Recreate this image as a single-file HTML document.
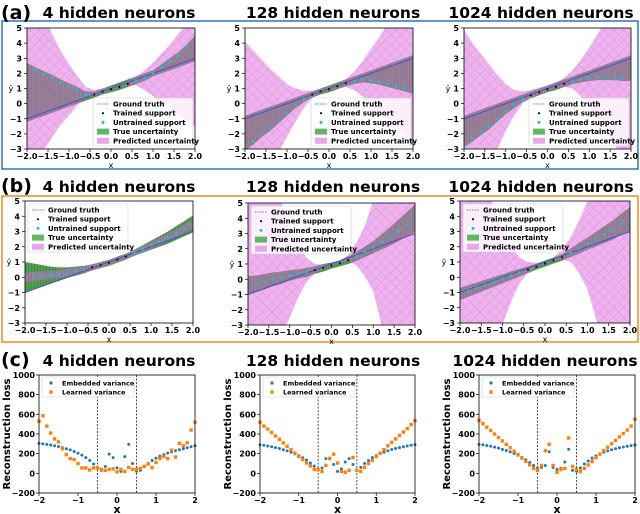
<!DOCTYPE html>
<html><head><meta charset="utf-8"><style>
html,body{margin:0;padding:0;background:#fff;}
svg{display:block;font-family:"DejaVu Sans","Liberation Sans",sans-serif;}
</style></head><body>
<svg id="fig" width="640" height="514" viewBox="0 0 640 514" xmlns="http://www.w3.org/2000/svg">
<defs>
<pattern id="xhatch" width="7" height="7" patternUnits="userSpaceOnUse" patternTransform="rotate(45)">
<path d="M0 0H7M0 0V7" stroke="#b040b0" stroke-width="0.5" opacity="0.5"/>
</pattern>
<pattern id="vhatch" width="3" height="3" patternUnits="userSpaceOnUse">
<path d="M1.5 0V3" stroke="#304030" stroke-width="0.4" opacity="0.5"/>
</pattern>
</defs>
<rect x="2" y="21" width="636" height="148" fill="none" stroke="#2e75b6" stroke-width="1.5"/>
<rect x="2" y="196" width="636" height="146" fill="none" stroke="#f08a24" stroke-width="1.5"/>
<text x="1" y="19" font-size="19" font-weight="bold">(a)</text>
<text x="1" y="192" font-size="19" font-weight="bold">(b)</text>
<text x="1" y="366" font-size="19" font-weight="bold">(c)</text>
</svg>
<script>
// shared x grid for regression panels
const XS = [-2,-1.8,-1.6,-1.4,-1.2,-1,-0.8,-0.6,-0.4,-0.2,0,0.2,0.4,0.6,0.8,1,1.2,1.4,1.6,1.8,2];
const GT = [-1,-0.8,-0.6,-0.4,-0.2,0,0.2,0.4,0.6,0.8,1,1.2,1.4,1.6,1.8,2,2.2,2.4,2.6,2.8,3];
const Y_TICKS = [-3,-2,-1,0,1,2,3,4,5];
const X_TICKS = [-2,-1.5,-1,-0.5,0,0.5,1,1.5,2];
const X_TICK_LABELS = ["−2.0","−1.5","−1.0","−0.5","0.0","0.5","1.0","1.5","2.0"];
const TITLES = ["4 hidden neurons","128 hidden neurons","1024 hidden neurons"];

// (a) panels
const A1_MEAN = [2.5,2.2,1.95,1.7,1.4,1.15,0.9,0.6,0.6,0.8,0.95,1.1,1.3,1.5,1.7,2.0,2.4,2.8,3.2,3.7,4.3];
const A1_PHI = [8,7,5.8,4.6,3.5,2.6,1.8,1.1,0.9,1.0,1.1,1.25,1.5,1.8,2.2,2.7,3.3,3.9,4.6,5.3,6];
const A1_PLO = [-5,-4,-3.1,-2.2,-1.4,-0.8,-0.1,0.4,0.5,0.7,0.9,1.05,1.2,1.2,0.9,0.5,0.1,-0.3,-0.7,-1.1,-1.5];
const A2_MEAN = [-2.9,-2.5,-2.0,-1.6,-1.1,-0.6,-0.1,0.3,0.6,0.8,0.95,1.15,1.35,1.5,1.6,1.55,1.45,1.3,1.15,1.0,0.85];
const A2_PHI = [4.1,3.5,2.9,2.3,1.8,1.3,1.0,0.85,0.85,1.0,1.1,1.3,1.6,2.1,2.8,3.6,4.4,5.3,6.2,7,8];
const A2_PLO = [-10,-8,-6,-4.5,-3.2,-2.2,-1.2,-0.3,0.4,0.7,0.85,1.0,1.1,0.9,0.5,0.0,-0.5,-1.0,-1.6,-2.2,-2.8];
const A3_MEAN = [-2.7,-2.3,-1.9,-1.5,-1.0,-0.5,-0.1,0.3,0.55,0.75,0.95,1.1,1.3,1.5,1.6,1.7,1.75,1.75,1.75,1.7,1.7];
const A3_PHI = [4.9,4.0,3.3,2.6,1.9,1.3,0.9,0.8,0.9,1.05,1.2,1.4,1.7,2.2,2.9,3.7,4.6,5.5,6.5,7.5,8.5];
const A3_PLO = [-10,-8,-6,-4.4,-3.0,-1.8,-0.8,0.0,0.4,0.6,0.8,1.0,1.1,1.0,0.5,-0.2,-1.0,-1.8,-2.7,-3.6,-4.5];

// (b) panels
const B1_MEAN = [0.0,0.05,0.1,0.15,0.2,0.3,0.4,0.5,0.65,0.8,0.95,1.15,1.35,1.6,1.85,2.1,2.35,2.6,2.9,3.2,3.5];
const B1_TRUEW = [1.0,0.85,0.7,0.55,0.45,0.35,0.3,0.25,0.2,0.2,0.2,0.2,0.2,0.2,0.25,0.3,0.35,0.4,0.45,0.5,0.55];
const B1_PREDW = [0.3,0.3,0.28,0.27,0.26,0.25,0.24,0.22,0.2,0.18,0.18,0.18,0.18,0.2,0.2,0.22,0.22,0.24,0.25,0.26,0.28];
const B2_MEAN = [-0.4,-0.3,-0.15,0.0,0.1,0.25,0.35,0.45,0.6,0.75,0.9,1.05,1.25,1.5,1.8,2.1,2.45,2.8,3.2,3.6,4.0];
const B2_TRUEW = [0.6,0.55,0.5,0.45,0.4,0.35,0.3,0.3,0.25,0.25,0.2,0.2,0.25,0.3,0.35,0.4,0.5,0.6,0.7,0.8,0.9];
const B2_PHI = [12,10,8.5,6.5,5.0,3.5,2.3,1.4,1.0,0.95,1.0,1.2,1.6,2.4,3.5,5.2,7,9,11,13,15];
const B2_PLO = [-12,-9,-7,-5,-3.6,-2.5,-1.2,-0.2,0.4,0.7,0.9,1.1,1.2,0.9,0.2,-0.8,-3.0,-5,-7,-9,-11];
const B3_MEAN = [-1.1,-0.9,-0.7,-0.5,-0.3,-0.1,0.1,0.3,0.5,0.7,0.9,1.1,1.3,1.6,1.9,2.2,2.5,2.8,3.1,3.5,3.8];
const B3_TRUEW = [0.4,0.38,0.36,0.34,0.32,0.3,0.28,0.25,0.22,0.2,0.2,0.2,0.22,0.28,0.35,0.4,0.48,0.55,0.62,0.7,0.78];
const B3_PHI = [14,11,8.5,6.3,4.5,3.0,2.0,1.3,1.0,0.95,1.0,1.3,1.8,2.6,3.7,5.0,6.8,8.8,11,13,15];
const B3_PLO = [-13,-10,-7.5,-5.3,-3.6,-3.1,-1.6,-0.4,0.3,0.7,0.9,1.1,1.2,1.0,0.3,-0.8,-2.7,-4.8,-7,-9.5,-12];

// (c) panels
const XC = [-2,-1.9,-1.8,-1.7,-1.6,-1.5,-1.4,-1.3,-1.2,-1.1,-1,-0.9,-0.8,-0.7,-0.6,-0.5,-0.4,-0.3,-0.2,-0.1,0,0.1,0.2,0.3,0.4,0.5,0.6,0.7,0.8,0.9,1,1.1,1.2,1.3,1.4,1.5,1.6,1.7,1.8,1.9,2];
const C_YTICKS = [-200,0,200,400,600,800,1000];
const C_XTICKS = [-2,-1,0,1,2];
const C_XTICK_LABELS = ["−2","−1","0","1","2"];
const C_YTICK_LABELS = ["−200","0","200","400","600","800","1000"];
const C1_EMB = [305,300,295,288,280,272,262,250,238,222,205,185,160,130,95,60,30,70,195,160,55,20,170,295,100,20,30,70,100,130,155,175,190,205,218,230,240,250,260,270,280];
const C1_LRN = [530,585,480,410,350,320,250,190,150,140,100,55,55,35,55,55,40,30,40,45,15,40,20,60,40,40,50,70,95,60,110,150,170,150,235,165,305,280,310,440,520];
const C2_EMB = [290,285,278,270,262,252,240,228,215,198,180,158,135,105,75,45,55,150,155,90,20,45,115,150,90,30,60,100,130,160,180,200,215,230,242,252,262,270,278,285,292];
const C2_LRN = [520,480,450,415,380,345,310,275,240,205,170,140,105,75,40,35,20,80,150,195,105,20,10,30,160,30,20,60,100,130,170,205,240,280,315,350,385,420,455,495,535];
const C3_EMB = [295,290,283,275,266,256,244,232,218,202,184,162,138,110,80,50,60,80,220,60,40,50,115,245,30,20,55,95,125,155,178,198,214,228,240,250,260,268,275,282,288];
const C3_LRN = [540,505,470,435,400,365,330,295,260,225,190,155,120,85,50,30,80,230,295,80,10,40,50,360,70,40,20,50,85,120,160,195,230,265,300,335,370,405,440,480,550];

const SVGNS = "http://www.w3.org/2000/svg";
const fig = document.getElementById('fig');
function mk(tag, attrs, parent) {
  const e = document.createElementNS(SVGNS, tag);
  for (const k in attrs) e.setAttribute(k, attrs[k]);
  (parent || fig).appendChild(e);
  return e;
}

const REG = [
  {L:27,R:195,T:28,B:149,tx:119,ty:18, mean:A1_MEAN, phi:A1_PHI, plo:A1_PLO, legend:'br', title:0},
  {L:245,R:413,T:28,B:149,tx:333,ty:18, mean:A2_MEAN, phi:A2_PHI, plo:A2_PLO, legend:'br', title:1},
  {L:464,R:631,T:28,B:149,tx:541,ty:18, mean:A3_MEAN, phi:A3_PHI, plo:A3_PLO, legend:'br', title:2},
  {L:25,R:193,T:201,B:323,tx:119,ty:192, mean:B1_MEAN, trueW:B1_TRUEW, predW:B1_PREDW, legend:'tl', title:0},
  {L:248,R:415,T:203,B:325,tx:333,ty:192, mean:B2_MEAN, trueW:B2_TRUEW, phi:B2_PHI, plo:B2_PLO, legend:'tl', title:1},
  {L:460,R:630,T:201,B:323,tx:541,ty:192, mean:B3_MEAN, trueW:B3_TRUEW, phi:B3_PHI, plo:B3_PLO, legend:'tl', title:2},
];

REG.forEach((p, pi) => {
  const sx = x => p.L + (x + 2) / 4 * (p.R - p.L);
  const sy = y => p.B - (y + 3) / 8 * (p.B - p.T);
  const g = mk('g', {});
  
  
  const cid = 'clip' + pi;
  const cp = mk('clipPath', {id: cid}, g);
  mk('rect', {x: p.L, y: p.T, width: p.R - p.L, height: p.B - p.T}, cp);
  const inner = mk('g', {'clip-path': 'url(#' + cid + ')'}, g);

  let tlo = [], thi = [], plo = [], phi = [];
  XS.forEach((x, i) => {
    if (p.trueW) { tlo.push(p.mean[i] - p.trueW[i]); thi.push(p.mean[i] + p.trueW[i]); }
    else { tlo.push(Math.min(GT[i], p.mean[i]) - 0.2); thi.push(Math.max(GT[i], p.mean[i]) + 0.2); }
    if (p.predW) { plo.push(p.mean[i] - p.predW[i]); phi.push(p.mean[i] + p.predW[i]); }
    else { plo.push(p.plo[i]); phi.push(p.phi[i]); }
  });
  const poly = (lo, hi) => XS.map((x, i) => sx(x) + ',' + sy(hi[i])).concat(XS.slice().reverse().map((x, j) => { const i = XS.length - 1 - j; return sx(x) + ',' + sy(lo[i]); })).join(' ');
  const tb = mk('polygon', {points: poly(tlo, thi), fill: '#3f963f', 'fill-opacity': 0.92}, inner);
  
  
  mk('polygon', {points: poly(tlo, thi), fill: 'url(#vhatch)'}, inner);
  const pb = mk('polygon', {points: poly(plo, phi), fill: '#dd66dd', 'fill-opacity': 0.5}, inner);
  
  
  mk('polygon', {points: poly(plo, phi), fill: 'url(#xhatch)'}, inner);
  const gl = mk('polyline', {points: XS.map((x, i) => sx(x) + ',' + sy(GT[i])).join(' '), fill: 'none', stroke: '#4a50c8', 'stroke-width': 1}, inner);
  
  
  XS.forEach((x, i) => {
    const trained = Math.abs(x) <= 0.5;
    const d = mk('circle', {cx: sx(x), cy: sy(p.mean[i]), r: trained ? 1.1 : 1.5, fill: trained ? '#111' : '#17c3c8'}, inner);
    
    
  });
  mk('rect', {x: p.L, y: p.T, width: p.R - p.L, height: p.B - p.T, fill: 'none', stroke: '#000', 'stroke-width': 0.8}, g);
  Y_TICKS.forEach(v => {
    mk('line', {x1: p.L - 3, x2: p.L, y1: sy(v), y2: sy(v), stroke: '#000', 'stroke-width': 0.7}, g);
    const t = mk('text', {x: p.L - 5, y: sy(v) + 3, 'font-size': 8, 'font-weight': 'bold', 'text-anchor': 'end'}, g);
    t.textContent = v < 0 ? '−' + (-v) : String(v);
    
    
  });
  X_TICKS.forEach((v, i) => {
    mk('line', {x1: sx(v), x2: sx(v), y1: p.B, y2: p.B + 3, stroke: '#000', 'stroke-width': 0.7}, g);
    const t = mk('text', {x: sx(v), y: p.B + 10, 'font-size': 8, 'font-weight': 'bold', 'text-anchor': 'middle'}, g);
    t.textContent = X_TICK_LABELS[i];
    
    
  });
  const xl = mk('text', {x: (p.L + p.R) / 2, y: p.B + 19, 'font-size': 8, 'text-anchor': 'middle'}, g);
  xl.textContent = 'x';
  
  
  const yl = mk('text', {x: p.L - 16, y: (p.T + p.B) / 2 + 3, 'font-size': 8, 'text-anchor': 'middle'}, g);
  yl.textContent = 'ŷ';
  
  
  const tt = mk('text', {x: p.tx, y: p.ty, 'font-size': 15.5, 'font-weight': 'bold', 'text-anchor': 'middle'}, g);
  tt.textContent = TITLES[p.title];
  
  

  // legend
  const lw = 100, lh = 48;
  const lx = p.legend === 'br' ? p.R - lw - 2 : p.L + 3;
  const ly = p.legend === 'br' ? p.B - lh - 3 : p.T + 3;
  const lg = mk('g', {}, g);
  
  
  mk('rect', {x: lx, y: ly, width: lw, height: lh, rx: 2, fill: '#fff', 'fill-opacity': 0.8, stroke: '#ccc', 'stroke-width': 0.6}, lg);
  const labels = ['Ground truth', 'Trained support', 'Untrained support', 'True uncertainty', 'Predicted uncertainty'];
  labels.forEach((lab, k) => {
    const cy = ly + 6 + k * 9.2;
    const e = mk('g', {}, lg);
    
    
    if (k === 0) mk('line', {x1: lx + 4, x2: lx + 16, y1: cy, y2: cy, stroke: '#4a50c8', 'stroke-width': 0.8, 'stroke-dasharray': '1.5 1'}, e);
    if (k === 1) mk('circle', {cx: lx + 10, cy: cy, r: 1.1, fill: '#111'}, e);
    if (k === 2) mk('circle', {cx: lx + 10, cy: cy, r: 1.5, fill: '#17c3c8'}, e);
    if (k === 3) mk('rect', {x: lx + 4, y: cy - 3, width: 12, height: 6, fill: '#4aa84a', opacity: 0.85}, e);
    if (k === 4) mk('rect', {x: lx + 4, y: cy - 3, width: 12, height: 6, fill: '#e9a8e9'}, e);
    const t = mk('text', {x: lx + 20, y: cy + 2.5, 'font-size': 7, 'font-weight': 'bold'}, e);
    t.textContent = lab;
  });
});

const REC = [
  {L:39,R:195,T:375,B:493,tx:119, emb:C1_EMB, lrn:C1_LRN, title:0},
  {L:260,R:415,T:375,B:493,tx:333, emb:C2_EMB, lrn:C2_LRN, title:1},
  {L:479,R:635,T:375,B:493,tx:545, emb:C3_EMB, lrn:C3_LRN, title:2},
];
REC.forEach((p, pi) => {
  const sx = x => p.L + (x + 2) / 4 * (p.R - p.L);
  const sy = y => p.B - (y + 200) / 1200 * (p.B - p.T);
  const g = mk('g', {});
  
  
  [-0.5, 0.5].forEach(v => {
    const l = mk('line', {x1: sx(v), x2: sx(v), y1: p.T, y2: p.B, stroke: '#222', 'stroke-width': 0.8, 'stroke-dasharray': '2 1.5'}, g);
    
    
  });
  XC.forEach((x, i) => {
    const d = mk('circle', {cx: sx(x), cy: sy(p.emb[i]), r: 1.5, fill: '#1f77b4'}, g);
    
    
  });
  XC.forEach((x, i) => {
    const d = mk('rect', {x: sx(x) - 1.7, y: sy(p.lrn[i]) - 1.7, width: 3.4, height: 3.4, fill: '#ff7f0e'}, g);
    
    
  });
  mk('rect', {x: p.L, y: p.T, width: p.R - p.L, height: p.B - p.T, fill: 'none', stroke: '#000', 'stroke-width': 0.8}, g);
  C_YTICKS.forEach((v, i) => {
    mk('line', {x1: p.L - 3, x2: p.L, y1: sy(v), y2: sy(v), stroke: '#000', 'stroke-width': 0.7}, g);
    const t = mk('text', {x: p.L - 4, y: sy(v) + 3, 'font-size': 8, 'font-weight': 'bold', 'text-anchor': 'end'}, g);
    t.textContent = C_YTICK_LABELS[i];
    
    
  });
  C_XTICKS.forEach((v, i) => {
    mk('line', {x1: sx(v), x2: sx(v), y1: p.B, y2: p.B + 3, stroke: '#000', 'stroke-width': 0.7}, g);
    const t = mk('text', {x: sx(v), y: p.B + 10, 'font-size': 8, 'font-weight': 'bold', 'text-anchor': 'middle'}, g);
    t.textContent = C_XTICK_LABELS[i];
    
    
  });
  const xl = mk('text', {x: (p.L + p.R) / 2, y: p.B + 20, 'font-size': 11, 'font-weight': 'bold', 'text-anchor': 'middle'}, g);
  xl.textContent = 'x';
  
  
  const yl = mk('text', {x: 0, y: 0, 'font-size': 10, 'font-weight': 'bold', 'text-anchor': 'middle', transform: 'translate(' + (p.L - 29) + ',' + ((p.T + p.B) / 2) + ') rotate(-90)'}, g);
  yl.textContent = 'Reconstruction loss';
  
  
  const tt = mk('text', {x: p.tx, y: 366, 'font-size': 15.5, 'font-weight': 'bold', 'text-anchor': 'middle'}, g);
  tt.textContent = TITLES[p.title];
  
  
  const lx = p.L + 3, ly = p.T + 2;
  const lg = mk('g', {}, g);
  
  
  mk('rect', {x: lx, y: ly, width: 92, height: 20, rx: 2, fill: '#fff', 'fill-opacity': 0.8, stroke: '#ccc', 'stroke-width': 0.6}, lg);
  const e1 = mk('g', {}, lg);
  
  
  mk('circle', {cx: lx + 9, cy: ly + 6, r: 1.6, fill: '#1f77b4'}, e1);
  const t1 = mk('text', {x: lx + 20, y: ly + 8.5, 'font-size': 6.5, 'font-weight': 'bold'}, e1);
  t1.textContent = 'Embedded variance';
  const e2 = mk('g', {}, lg);
  
  
  mk('rect', {x: lx + 7.3, y: ly + 13.3, width: 3.4, height: 3.4, fill: '#ff7f0e'}, e2);
  const t2 = mk('text', {x: lx + 20, y: ly + 17.5, 'font-size': 6.5, 'font-weight': 'bold'}, e2);
  t2.textContent = 'Learned variance';
});
</script>
</body></html>
